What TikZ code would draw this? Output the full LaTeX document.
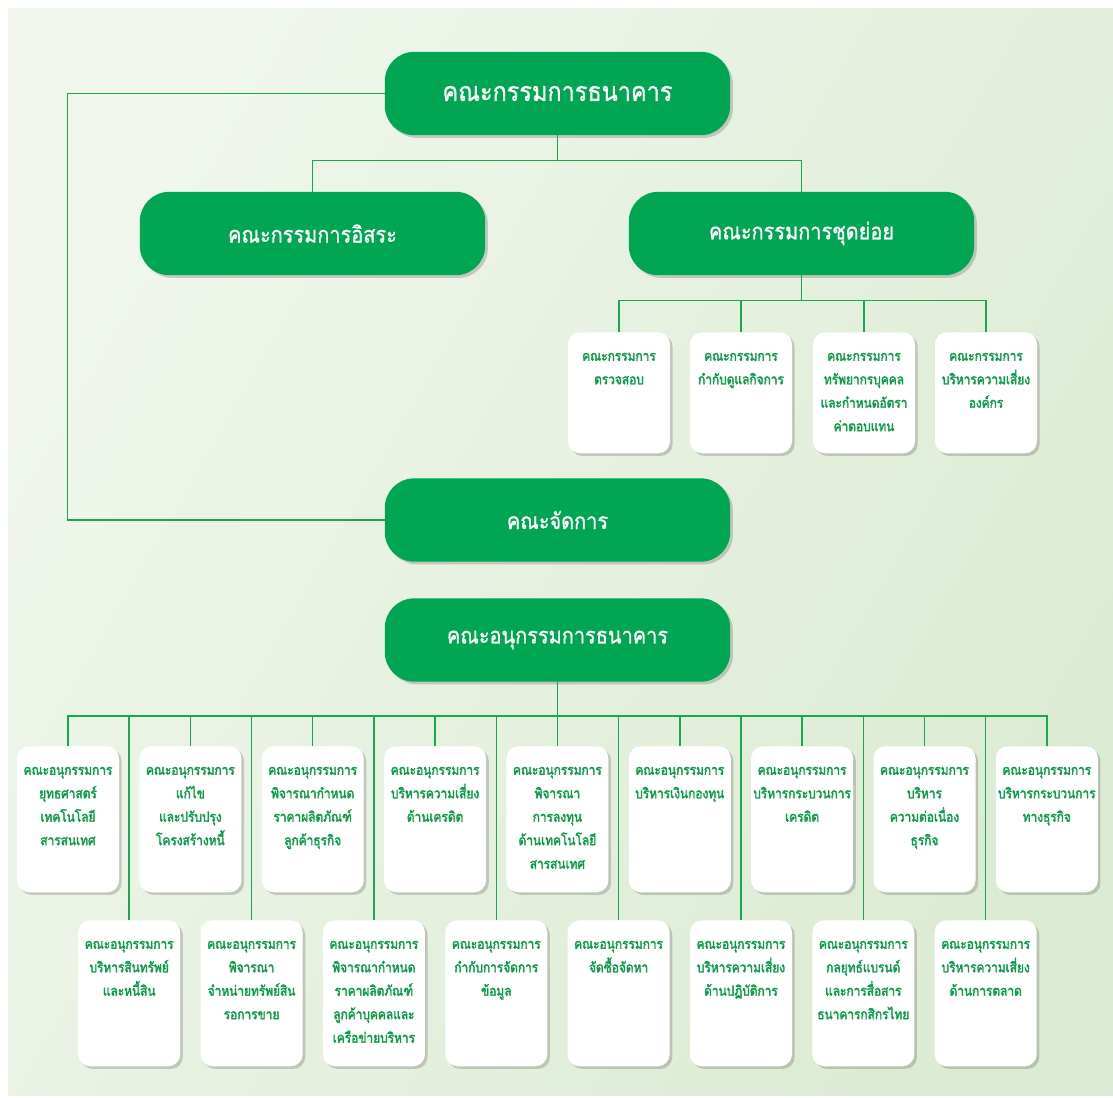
\documentclass[tikz,border=0pt]{standalone}
\usepackage{fontspec}
\newfontfamily\thai[Script=Thai,FakeStretch=0.88,FakeBold=0.8]{Loma}
\newfontfamily\thaicard[Script=Thai,FakeStretch=0.85,FakeBold=2.4]{Loma}
\usetikzlibrary{shadows}
\definecolor{kgreen}{HTML}{00A651}
\definecolor{kline}{HTML}{18A84E}
\definecolor{ktext}{HTML}{0C9E47}
\definecolor{bgA}{HTML}{F0F6EC}
\definecolor{bgB}{HTML}{DCEBD3}
% card body: fixed-height top-aligned column of centred lines
\newcommand\cardbody[2]{\parbox[t][#1][t]{76.5pt}{\centering\vspace*{15.5pt}#2}}
\begin{document}
\begin{tikzpicture}[x=0.75pt,y=-0.75pt,
  conn/.style={draw=kline,line width=1.1pt},
  shade box/.style={drop shadow={shadow xshift=2pt,shadow yshift=-2pt,opacity=.25,fill=black!70}},
  mainbox/.style={shade box,fill=kgreen,rounded corners=22pt,minimum width=259pt,minimum height=62.5pt,
    text=white,font=\thai\fontsize{17}{20}\selectfont,inner sep=0pt},
  card/.style={shade box,fill=white,rounded corners=9pt,inner sep=0pt,anchor=north,
    text=ktext,font=\thaicard\fontsize{10.5}{17.6}\selectfont}]
\useasboundingbox (0,0) rectangle (1113,1097);
\fill[white] (0,0) rectangle (1113,1097);
\shade[left color=bgA,right color=bgB,shading angle=60] (8,8) rectangle (1113,1095);

% main committees
\node[mainbox,font=\thai\fontsize{20}{24}\selectfont] (board) at (557.5,93.5) {คณะกรรมการธนาคาร};
\node[mainbox] (indep) at (312.5,233.5) {คณะกรรมการอิสระ};
\node[mainbox] (subc) at (801.5,233.5) {คณะกรรมการชุดย่อย};
\node[mainbox] (mgmt) at (557.5,520) {คณะจัดการ};
\node[mainbox] (bank) at (557.5,640) {คณะอนุกรรมการธนาคาร};

% board sub-committees
\node[card] (c1) at (619,332) {\cardbody{90.75pt}{คณะกรรมการ\\ตรวจสอบ}};
\node[card] (c2) at (741,332) {\cardbody{90.75pt}{คณะกรรมการ\\กำกับดูแลกิจการ}};
\node[card] (c3) at (864,332) {\cardbody{90.75pt}{คณะกรรมการ\\ทรัพยากรบุคคล\\และกำหนดอัตรา\\ค่าตอบแทน}};
\node[card] (c4) at (986,332) {\cardbody{90.75pt}{คณะกรรมการ\\บริหารความเสี่ยง\\องค์กร}};

% management sub-committees, upper row
\node[card] (u1) at (68,746) {\cardbody{109.5pt}{คณะอนุกรรมการ\\ยุทธศาสตร์\\เทคโนโลยี\\สารสนเทศ}};
\node[card] (u2) at (190.4,746) {\cardbody{109.5pt}{คณะอนุกรรมการ\\แก้ไข\\และปรับปรุง\\โครงสร้างหนี้}};
\node[card] (u3) at (312.7,746) {\cardbody{109.5pt}{คณะอนุกรรมการ\\พิจารณากำหนด\\ราคาผลิตภัณฑ์\\ลูกค้าธุรกิจ}};
\node[card] (u4) at (435.1,746) {\cardbody{109.5pt}{คณะอนุกรรมการ\\บริหารความเสี่ยง\\ด้านเครดิต}};
\node[card] (u5) at (557.4,746) {\cardbody{109.5pt}{คณะอนุกรรมการ\\พิจารณา\\การลงทุน\\ด้านเทคโนโลยี\\สารสนเทศ}};
\node[card] (u6) at (679.8,746) {\cardbody{109.5pt}{คณะอนุกรรมการ\\บริหารเงินกองทุน}};
\node[card] (u7) at (802.1,746) {\cardbody{109.5pt}{คณะอนุกรรมการ\\บริหารกระบวนการ\\เครดิต}};
\node[card] (u8) at (924.5,746) {\cardbody{109.5pt}{คณะอนุกรรมการ\\บริหาร\\ความต่อเนื่อง\\ธุรกิจ}};
\node[card] (u9) at (1046.8,746) {\cardbody{109.5pt}{คณะอนุกรรมการ\\บริหารกระบวนการ\\ทางธุรกิจ}};

% management sub-committees, lower row
\node[card] (l1) at (129.2,920) {\cardbody{109.5pt}{คณะอนุกรรมการ\\บริหารสินทรัพย์\\และหนี้สิน}};
\node[card] (l2) at (251.6,920) {\cardbody{109.5pt}{คณะอนุกรรมการ\\พิจารณา\\จำหน่ายทรัพย์สิน\\รอการขาย}};
\node[card] (l3) at (373.9,920) {\cardbody{109.5pt}{คณะอนุกรรมการ\\พิจารณากำหนด\\ราคาผลิตภัณฑ์\\ลูกค้าบุคคลและ\\เครือข่ายบริหาร}};
\node[card] (l4) at (496.3,920) {\cardbody{109.5pt}{คณะอนุกรรมการ\\กำกับการจัดการ\\ข้อมูล}};
\node[card] (l5) at (618.6,920) {\cardbody{109.5pt}{คณะอนุกรรมการ\\จัดซื้อจัดหา}};
\node[card] (l6) at (741.0,920) {\cardbody{109.5pt}{คณะอนุกรรมการ\\บริหารความเสี่ยง\\ด้านปฏิบัติการ}};
\node[card] (l7) at (863.3,920) {\cardbody{109.5pt}{คณะอนุกรรมการ\\กลยุทธ์แบรนด์\\และการสื่อสาร\\ธนาคารกสิกรไทย}};
\node[card] (l8) at (985.7,920) {\cardbody{109.5pt}{คณะอนุกรรมการ\\บริหารความเสี่ยง\\ด้านการตลาด}};

% connectors
\draw[conn] (board.west) -- ++(-317,0) |- (mgmt.west);
\draw[conn] (board.south) -- ++(0,25) -| (indep.north);
\draw[conn] (board.south) -- ++(0,25) -| (subc.north);
\foreach \n in {c1,c2,c3,c4}
  \draw[conn] (subc.south) -- ++(0,25) -| (\n.north);
\foreach \n in {u1,u2,u3,u4,u5,u6,u7,u8,u9,l1,l2,l3,l4,l5,l6,l7,l8}
  \draw[conn] (bank.south) -- ++(0,34) -| (\n.north);
\end{tikzpicture}
\end{document}
